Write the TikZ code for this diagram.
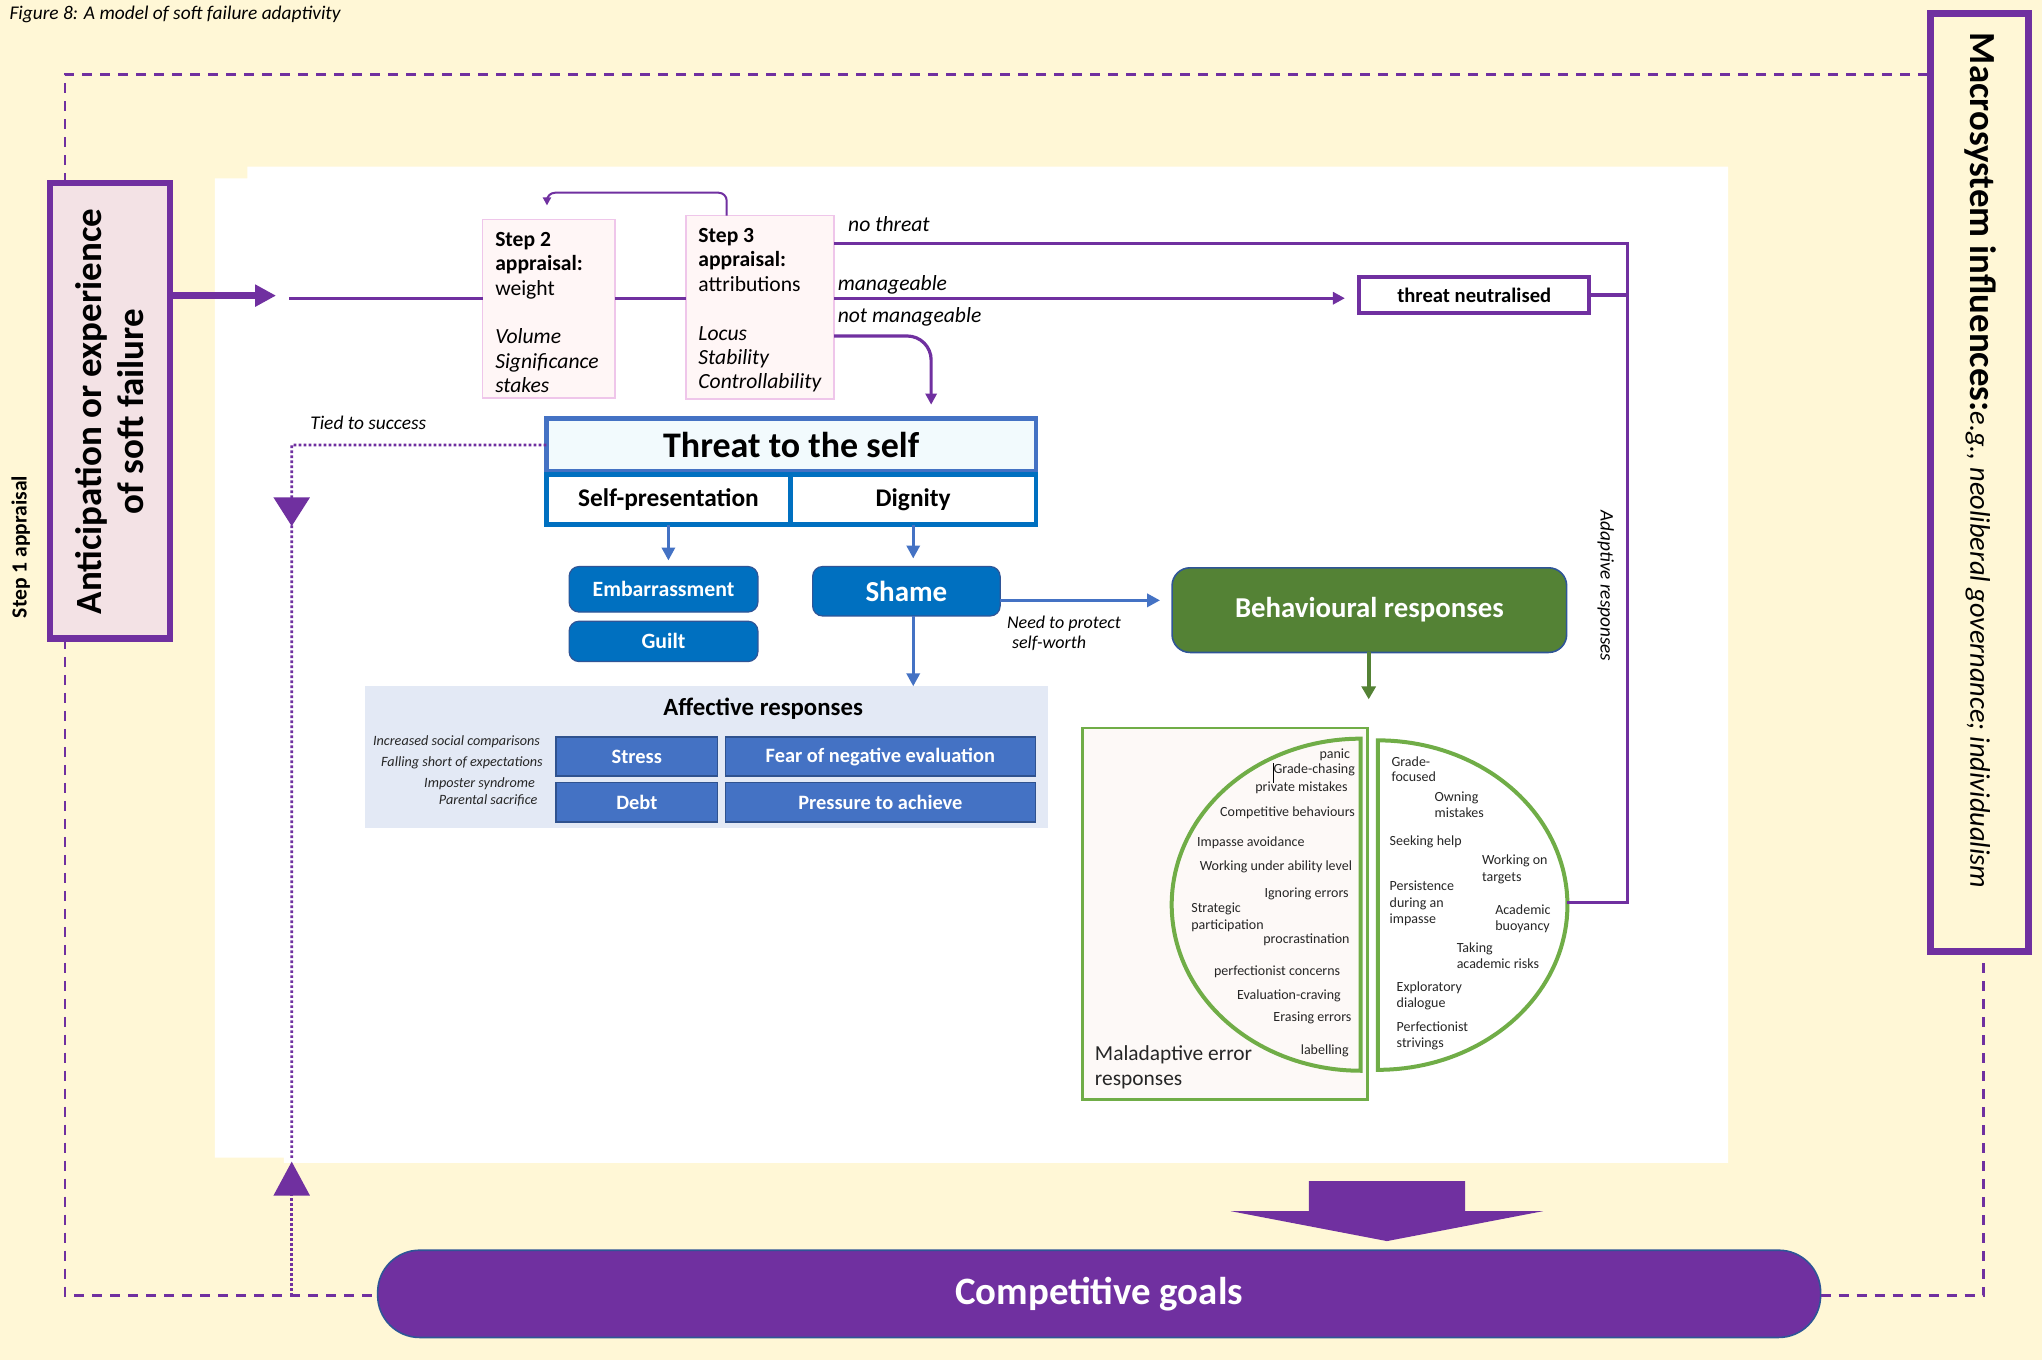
\documentclass[tikz,border=0pt]{standalone}
\usepackage{fontspec}
\setmainfont{Carlito}
\usetikzlibrary{arrows.meta,fit}
\newcommand\myfs[2]{\fontsize{#1}{#2}\selectfont}
\definecolor{cream}{HTML}{FFF7D6}
\definecolor{purp}{HTML}{7030A0}
\definecolor{antifill}{HTML}{F3E2E5}
\definecolor{stepdraw}{HTML}{EFC6EA}
\definecolor{stepfill}{HTML}{FFF6F6}
\definecolor{tfill}{HTML}{F2FAFD}
\definecolor{tblue}{HTML}{4472C4}
\definecolor{sblue}{HTML}{0070C0}
\definecolor{bbox}{HTML}{0070C0}
\definecolor{bborder}{HTML}{2F5597}
\definecolor{afffill}{HTML}{E3E9F5}
\definecolor{affbox}{HTML}{4472C4}
\definecolor{affdraw}{HTML}{2F528F}
\definecolor{gfill}{HTML}{548235}
\definecolor{lgreen}{HTML}{70AD47}
\definecolor{malfill}{HTML}{FDF9F7}
\definecolor{ctext}{HTML}{262626}
\newcommand\ctR[3]{\node[ct,anchor=mid east] at (#1,#2) {#3};}
\newcommand\ctL[3]{\node[ct,anchor=mid west] at (#1,#2) {#3};}
\begin{document}
\begin{tikzpicture}[x=0.6512pt,y=-0.6512pt,
  fitbox/.style={inner sep=0pt,outer sep=0pt},
  purpline/.style={draw=purp,line width=1.6pt},
  dashline/.style={draw=purp,line width=1.3pt,dash pattern=on 5pt off 4pt},
  dotline/.style={draw=purp,line width=1.4pt,dash pattern=on 1.3pt off 1.2pt},
  bluearrow/.style={draw=tblue,line width=1.7pt,-{Triangle[length=6.5pt,width=6.5pt]}},
  bluebox/.style={fitbox,rounded corners=5pt,fill=bbox,draw=bborder,line width=0.6pt},
  affb/.style={fitbox,fill=affbox,draw=affdraw,line width=0.8pt},
  afft/.style={text=white,font=\bfseries\myfs{10.2}{12}},
  stepbox/.style={fitbox,draw=stepdraw,line width=0.9pt,fill=stepfill},
  steptext/.style={anchor=north west,align=left,inner sep=0pt,font=\myfs{10.8}{12.2}},
  lab/.style={inner sep=0pt,font=\itshape\myfs{10.8}{12.4}},
  ct/.style={inner sep=0pt,font=\myfs{7}{8.1},text=ctext},
  afl/.style={inner sep=0pt,anchor=mid east,font=\itshape\myfs{7.1}{8},text=ctext}]
\useasboundingbox (0,0) rectangle (1568,1044);
\fill[cream] (0,0) rectangle (1568,1044);
\fill[white] (165,137) -- (190,137) -- (190,128) -- (1327,128) -- (1327,893) -- (218,893) -- (218,889) -- (165,889) -- cycle;

% title
\node[anchor=base west,inner sep=0pt,font=\itshape\myfs{9.7}{11}] (title) at (7,15) {Figure 8: A model of soft failure adaptivity};

% left box and step 1 label
\node[fitbox,fit={(38.5,140.5) (130.5,490.5)},draw=purp,line width=3.3pt,fill=antifill] (anti) {};
\node[rotate=90,align=center,font=\bfseries\myfs{18.5}{20.8}] (antitext) at (84,316) {Anticipation or experience\\of soft failure};
\node[rotate=90,font=\bfseries\myfs{10.8}{12}] (step1) at (16,420) {Step 1 appraisal};

% macrosystem box
\node[fitbox,fit={(1482.5,10.5) (1557.5,730.5)},draw=purp,line width=3.2pt,fill=cream] (macro) {};
\node[rotate=-90,anchor=base west,inner sep=0pt] (macrotext) at (1513,25) {\bfseries\myfs{18.4}{20}Macrosystem influences:\mdseries\itshape\myfs{14.2}{16}e.g., neoliberal governance; individualism};

% competitive goals
\node[fitbox,fit={(290,960) (1398,1027)},rounded corners=21pt,fill=purp,draw=bborder,line width=0.8pt] (goals) {};
\node[text=white,font=\bfseries\myfs{19.4}{22}] (goalsT) at (goals.center) {Competitive goals};
\fill[purp] (1005,907) -- (1125,907) -- (1125,930) -- (1185,930) -- (1065,953) -- (945,930) -- (1005,930) -- cycle;

% dashed outer loop
\coordinate (dtl) at (50,57);
\coordinate (dbl) at (50,995);
\coordinate (dbr) at (1523,995);
\draw[dashline] (anti.north -| dtl) -- (dtl) -- (macro.west |- dtl);
\draw[dashline] (anti.south -| dbl) -- (dbl) -- (goals.west |- dbl);
\draw[dashline] (goals.east |- dbr) -- (dbr) -- (macro.south -| dbr);

% step boxes
\node[stepbox,fit={(370.5,168.5) (472.5,305.5)}] (s2) {};
\node[steptext] (s2T) at (380,178) {\textbf{Step 2}\\\textbf{appraisal:}\\weight\\[12.2pt]\textit{Volume}\\\textit{Significance}\\\textit{stakes}};
\node[stepbox,fit={(526.5,165.5) (640.5,306.5)}] (s3) {};
\node[steptext] (s3T) at (536,175) {\textbf{Step 3}\\\textbf{appraisal:}\\attributions\\[12.2pt]\textit{Locus}\\\textit{Stability}\\\textit{Controllability}};

% threat neutralised
\node[fitbox,fit={(1043.5,212.5) (1220.5,240.5)},draw=purp,line width=2pt,fill=white] (tn) {};
\node[font=\bfseries\myfs{10.3}{12}] (tnT) at (tn.center) {threat neutralised};

% threat to the self
\node[fitbox,fit={(419.5,321.5) (795.5,362)},draw=tblue,line width=2.4pt,fill=tfill] (threat) {};
\node[font=\bfseries\myfs{18}{20}] (threatT) at (threat.center) {Threat to the self};
\node[fitbox,fit={(419.5,364.5) (607,403)},draw=sblue,line width=2.4pt,fill=white] (sp) {};
\node[font=\bfseries\myfs{12.7}{14}] (spT) at (sp.center) {Self-presentation};
\node[fitbox,fit={(607,364.5) (795.5,403)},draw=sblue,line width=2.4pt,fill=white] (dig) {};
\node[font=\bfseries\myfs{12.7}{14}] (digT) at (dig.center) {Dignity};

\node[bluebox,fit={(437,435) (582,470)}] (emb) {};
\node[text=white,font=\bfseries\myfs{10.9}{12}] (embT) at (emb.center) {Embarrassment};
\node[bluebox,fit={(437,477) (582,508)}] (guilt) {};
\node[text=white,font=\bfseries\myfs{10.9}{12}] (guiltT) at (guilt.center) {Guilt};
\node[bluebox,fit={(624,435) (768,473)}] (shame) {};
\node[text=white,font=\bfseries\myfs{14.5}{16}] (shameT) at (shame.center) {Shame};

% affective responses
\node[fitbox,fit={(280,527) (805,636)},fill=afffill] (aff) {};
\node[font=\bfseries\myfs{12.4}{14}] (afftitle) at (586,544) {Affective responses};
\node[affb,fit={(427,566) (551,596)}] (stress) {};
\node[afft] at (stress.center) {Stress};
\node[affb,fit={(557,566) (795,596)}] (fear) {};
\node[afft] at (fear.center) {Fear of negative evaluation};
\node[affb,fit={(427,601) (551,631)}] (debt) {};
\node[afft] at (debt.center) {Debt};
\node[affb,fit={(557,601) (795,631)}] (press) {};
\node[afft] at (press.center) {Pressure to achieve};
\node[afl] at (415,569) {Increased social comparisons};
\node[afl] at (417,585) {Falling short of expectations};
\node[afl] at (411,601) {Imposter syndrome};
\node[afl] at (413,614) {Parental sacrifice};

% behavioural responses
\node[fitbox,fit={(900,436) (1203,501)},rounded corners=9pt,fill=gfill,draw=bborder,line width=0.8pt] (beh) {};
\node[text=white,font=\bfseries\myfs{14.4}{16}] (behT) at (beh.center) {Behavioural responses};

% maladaptive box and half ellipses
\node[fitbox,fit={(831,559) (1050,844)},draw=lgreen,line width=1.4pt,fill=malfill] (mal) {};
\draw[draw=lgreen,line width=2pt,fill=malfill] plot[domain=90:270,samples=90] ({1044.7+145*cos(\x)},{694.7+127.5*sin(\x)}) -- cycle;
\draw[draw=lgreen,line width=2pt,fill=white] plot[domain=-90:90,samples=90] ({1058.1+145.5*cos(\x)},{695+126.5*sin(\x)}) -- cycle;
\coordinate (rc) at (1203.6,693);

\ctR{1037}{578.4}{panic}
\ctR{1040.7}{589.9}{Grade-chasing}
\ctR{1035}{604.2}{private mistakes}
\ctR{1040.7}{623.4}{Competitive behaviours}
\ctL{918.9}{646.1}{Impasse avoidance}
\ctR{1038.5}{664.5}{Working under ability level}
\ctR{1035.9}{685.6}{Ignoring errors}
\ctL{914.5}{697.4}{Strategic}
\ctL{914.5}{709.7}{participation}
\ctR{1036.6}{720.7}{procrastination}
\ctR{1029.4}{745.4}{perfectionist concerns}
\ctR{1029.9}{764}{Evaluation-craving}
\ctR{1038}{781}{Erasing errors}
\ctR{1035.9}{806.3}{labelling}
\draw[black,line width=0.5pt] (978,586) -- (978,601.5);

\ctL{1068.2}{585}{Grade-}
\ctL{1068.2}{596.7}{focused}
\ctL{1101.3}{611.5}{Owning}
\ctL{1101.3}{624.2}{mistakes}
\ctL{1066.8}{645.3}{Seeking help}
\ctL{1137.7}{660.4}{Working on}
\ctL{1137.7}{673.3}{targets}
\ctL{1066.8}{680.4}{Persistence}
\ctL{1066.8}{693.3}{during an}
\ctL{1066.8}{705.6}{impasse}
\ctL{1147.9}{698.8}{Academic}
\ctL{1147.9}{711.1}{buoyancy}
\ctL{1118.3}{727.6}{Taking}
\ctL{1118.3}{739.9}{academic risks}
\ctL{1072.2}{757.7}{Exploratory}
\ctL{1072.2}{770.1}{dialogue}
\ctL{1072.2}{788.7}{Perfectionist}
\ctL{1072.2}{801}{strivings}

\node[inner sep=0pt,anchor=mid west,font=\myfs{10.7}{12},text=ctext] at (840.5,810.6) {Maladaptive error};
\node[inner sep=0pt,anchor=mid west,font=\myfs{10.7}{12},text=ctext] at (840.5,829.9) {responses};

% purple connectors
\coordinate (a1) at (212,227);
\coordinate (a2) at (222,229);
\draw[purp,line width=3.3pt,-{Triangle[length=10.5pt,width=10.5pt]}] (anti.east |- a1) -- (a1);
\draw[purpline] (a2) -- (s2.west |- a2);
\draw[purpline] (s2.east |- a2) -- (s3.west |- a2);
\draw[purpline,-{Triangle[length=6pt,width=6pt]},shorten >=7pt] (s3.east |- a2) -- (tn.west |- a2);
\coordinate (nt) at (1250,187);
\coordinate (nb) at (1250,693);
\draw[purpline] (s3.east |- nt) -- (nt) -- (nb) -- (rc);
\draw[purpline] (tn.east) -- (tn.east -| nt);
\coordinate (fb1) at (558,148);
\coordinate (fb2) at (420,148);
\draw[draw=purp,line width=1pt,rounded corners=4pt,-{Triangle[length=4pt,width=4pt]},shorten >=7pt] (s3.north -| fb1) -- (fb1) -- (fb2) -- (s2.north -| fb2);
\coordinate (nm) at (715,258);
\draw[purpline,rounded corners=12pt,-{Triangle[length=5.5pt,width=5.5pt]},shorten >=7pt] (s3.east |- nm) -- (nm) -- (threat.north -| nm);

% dotted tied-to-success loop
\coordinate (ts) at (224,341.75);
\coordinate (tsb) at (224,890);
\coordinate (tub) at (224,917);
\draw[dotline] (threat.west) -- (ts) -- (tsb);
\draw[dotline] (dbl -| ts) -- (tub);
\fill[purp] (210,382) -- (238,382) -- (224,404) -- cycle;
\fill[purp] (210,918) -- (238,918) -- (224,892) -- cycle;

% blue arrows
\draw[bluearrow,shorten >=3pt] (sp.south) -- (sp.south |- emb.north);
\draw[bluearrow,shorten >=4pt] (dig.south) -- (dig.south |- shame.north);
\draw[bluearrow] (dig.south |- shame.south) -- (dig.south |- aff.north);
\coordinate (sh) at (768,461);
\draw[bluearrow,shorten >=6pt] (shame.east |- sh) -- (beh.west |- sh);
% green arrow
\coordinate (ge) at (1051,537);
\draw[draw=gfill,line width=2pt,-{Triangle[length=6.5pt,width=7pt]}] (beh.south -| ge) -- (ge);

% labels
\node[lab,anchor=base west] at (651,178) {no threat};
\node[lab,anchor=base west] at (643,223) {manageable};
\node[lab,anchor=base west] at (643,248) {not manageable};
\node[inner sep=0pt,anchor=base west,font=\itshape\myfs{9.7}{11}] at (238,330) {Tied to success};
\node[inner sep=0pt,anchor=north west,align=left,font=\itshape\myfs{9}{10}] at (773,473) {Need to protect\\\hspace*{2.5pt}self-worth};
\node[rotate=-90,font=\itshape\myfs{9.6}{11}] at (1233,450) {Adaptive responses};
\end{tikzpicture}
\end{document}
